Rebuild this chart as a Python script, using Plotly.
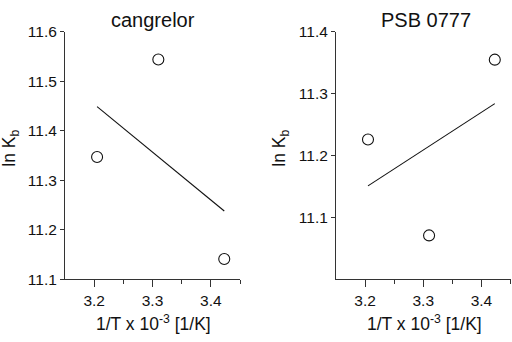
import plotly.graph_objects as go

# Data
x_vals = [3.205, 3.31, 3.423]
cangrelor_y = [11.347, 11.544, 11.141]
cangrelor_fit_x = [3.205, 3.423]
cangrelor_fit_y = [11.449, 11.238]
psb_y = [11.226, 11.071, 11.355]
psb_fit_x = [3.205, 3.423]
psb_fit_y = [11.151, 11.284]

titles = ["cangrelor", "PSB 0777"]
x_ticks = [3.2, 3.3, 3.4]
x_minor = [3.25, 3.35, 3.45]
left_yticks = [11.1, 11.2, 11.3, 11.4, 11.5, 11.6]
right_yticks = [11.1, 11.2, 11.3, 11.4]

FONT = "Liberation Sans, Arial, sans-serif"
INK = "#111111"

fig = go.Figure()
marker = dict(symbol="circle-open", size=11, color="#111111", line=dict(width=1.1, color="#111111"))

fig.add_trace(go.Scatter(x=x_vals, y=cangrelor_y, mode="markers", marker=marker, xaxis="x", yaxis="y", showlegend=False))
fig.add_trace(go.Scatter(x=cangrelor_fit_x, y=cangrelor_fit_y, mode="lines", line=dict(color="#111111", width=1.1), xaxis="x", yaxis="y", showlegend=False))
fig.add_trace(go.Scatter(x=x_vals, y=psb_y, mode="markers", marker=marker, xaxis="x2", yaxis="y2", showlegend=False))
fig.add_trace(go.Scatter(x=psb_fit_x, y=psb_fit_y, mode="lines", line=dict(color="#111111", width=1.1), xaxis="x2", yaxis="y2", showlegend=False))

W, H = 512, 342
ydom = [1 - 284.5 / H, 1 - 24 / H]

xaxis_common = dict(
    range=[3.15, 3.45], tickmode="array", tickvals=x_ticks, ticktext=["3.2", "3.3", "3.4"],
    ticks="outside", ticklen=7, tickwidth=1, tickcolor="#333", showline=True, linecolor="#333", linewidth=1,
    showgrid=False, zeroline=False, tickfont=dict(family=FONT, size=15.5, color=INK),
    minor=dict(tickmode="array", tickvals=x_minor, ticks="outside", ticklen=4, tickwidth=1, tickcolor="#333", showgrid=False),
    fixedrange=True,
)
yaxis_common = dict(
    ticks="outside", ticklen=4, tickwidth=1, tickcolor="#333", showline=True, linecolor="#333", linewidth=1,
    showgrid=False, zeroline=False, tickfont=dict(family=FONT, size=15.5, color=INK), fixedrange=True,
)

fig.update_layout(
    width=W, height=H, margin=dict(l=0, r=0, t=0, b=0),
    paper_bgcolor="white", plot_bgcolor="white",
    xaxis=dict(domain=[65 / W, 240 / W], anchor="y", **xaxis_common),
    yaxis=dict(domain=ydom, anchor="x", range=[11.1, 11.6], tickmode="array", tickvals=left_yticks,
               ticktext=[f"{v:.1f}" for v in left_yticks], **yaxis_common),
    xaxis2=dict(domain=[336 / W, 510.5 / W], anchor="y2", **xaxis_common),
    yaxis2=dict(domain=ydom, anchor="x2", range=[11.0, 11.4], tickmode="array", tickvals=right_yticks,
                ticktext=[f"{v:.1f}" for v in right_yticks], **yaxis_common),
)

ann = []
for cx, t in [(153, titles[0]), (426, titles[1])]:
    ann.append(dict(x=cx / W, y=1 - 12 / H, xref="paper", yref="paper", text=t, showarrow=False,
                    font=dict(family=FONT, size=20, color=INK), xanchor="center", yanchor="middle"))
for cx in [153, 424]:
    ann.append(dict(x=cx / W, y=1 - 330 / H, xref="paper", yref="paper", text="1/T x 10<sup>-3</sup> [1/K]",
                    showarrow=False, font=dict(family=FONT, size=17.5, color=INK), xanchor="center", yanchor="middle"))
for cx in [11, 281]:
    ann.append(dict(x=cx / W, y=1 - 147 / H, xref="paper", yref="paper", text="ln K<sub>b</sub>", textangle=-90,
                    showarrow=False, font=dict(family=FONT, size=17.5, color=INK), xanchor="center", yanchor="middle"))
fig.update_layout(annotations=ann)

fig.write_html("out.html", config={"displayModeBar": False})

# remove the default page margin so the figure sits at the window origin
with open("out.html", "r", encoding="utf-8") as f:
    html = f.read()
html = html.replace("<head>", "<head><style>html,body{margin:0;padding:0;overflow:hidden;}</style>", 1)
with open("out.html", "w", encoding="utf-8") as f:
    f.write(html)
